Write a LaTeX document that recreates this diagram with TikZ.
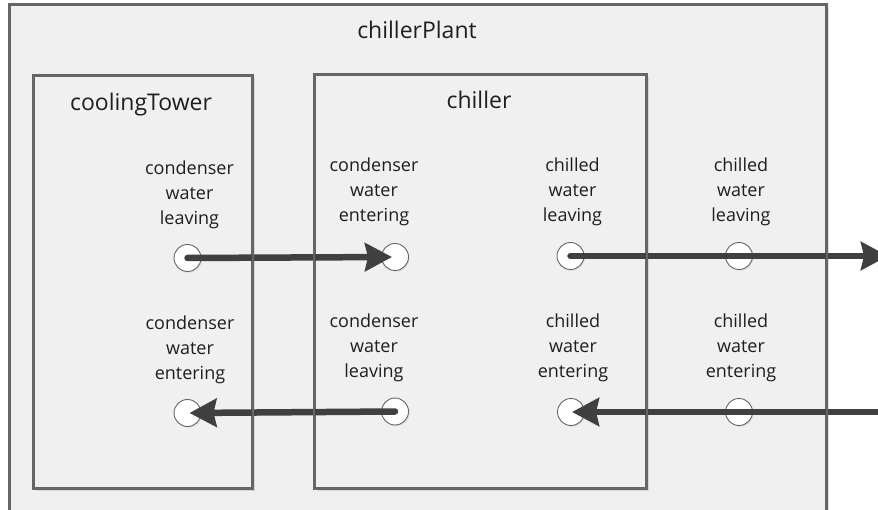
\documentclass[tikz,border=0pt]{standalone}
\usepackage{fontspec}
\setmainfont{Open Sans}
\usetikzlibrary{arrows.meta,shadows}
\definecolor{panel}{HTML}{F0F0F0}
\definecolor{edge}{HTML}{666666}
\definecolor{flow}{HTML}{404040}
\definecolor{ink}{HTML}{1E1E1E}
\begin{document}
\begin{tikzpicture}[x=1pt,y=-1pt,
  block/.style={rectangle,draw=edge,line width=1.6pt,fill=panel,inner sep=0pt,
    drop shadow={shadow xshift=2.5pt,shadow yshift=-2.5pt,fill=black!35,opacity=0.35}},
  frame/.style={draw=edge,line width=1.6pt},
  port/.style={circle,draw=edge,line width=0.9pt,fill=white,minimum size=27pt,inner sep=0pt,
    drop shadow={shadow xshift=1.2pt,shadow yshift=-1.2pt,fill=black!30,opacity=0.3}},
  portlabel/.style={align=center,font=\fontsize{18}{25}\selectfont,text=ink,inner sep=0pt},
  title/.style={font=\fontsize{23}{27}\selectfont,text=ink,inner sep=0pt,anchor=base},
  flowline/.style={draw=flow,line width=6.5pt,line cap=round,
    -{Stealth[length=27pt,width=28pt,inset=3pt]}},
]
\useasboundingbox (0,0) rectangle (878,510);
\clip (0,0) rectangle (878,510);
\fill[white] (0,0) rectangle (878,510);

% containers
\node[block,minimum width=816pt,minimum height=525pt] (plant) at (418,267.5) {};
\node[block,minimum width=218pt,minimum height=412pt] (tower) at (143,282) {};
\node[block,minimum width=331pt,minimum height=413pt] (chiller) at (480.5,281.5) {};

% titles
\node[title] (plantT) at (417,39) {chillerPlant};
\node[title] (towerT) at (141,111) {coolingTower};
\node[title] (chillerT) at (479,109) {chiller};

% ports
\node[port] (ctOut) at (187.5,258) {};
\node[port] (ctIn) at (187.5,413) {};
\node[port] (chCondIn) at (395,257) {};
\node[port] (chCondOut) at (395,411.5) {};
\node[port] (chChwOut) at (570.5,256) {};
\node[port] (chChwIn) at (571,412) {};
\node[port] (plChwOut) at (739,256) {};
\node[port] (plChwIn) at (739,412) {};

% port labels
\node[portlabel] (lctOut) at (189.5,195) {condenser\\water\\leaving};
\node[portlabel] (lctIn) at (190,350) {condenser\\water\\entering};
\node[portlabel] (lchCondIn) at (374,192) {condenser\\water\\entering};
\node[portlabel] (lchCondOut) at (374,348) {condenser\\water\\leaving};
\node[portlabel] (lchChwOut) at (572.5,192) {chilled\\water\\leaving};
\node[portlabel] (lchChwIn) at (573,348) {chilled\\water\\entering};
\node[portlabel] (lplChwOut) at (741,192) {chilled\\water\\leaving};
\node[portlabel] (lplChwIn) at (741,348) {chilled\\water\\entering};

% loose ends of the chilled water loop
\coordinate (chwSupply) at (888,256);
\coordinate (chwReturn) at (892,412);

% flows
\draw[flowline,shorten >=3pt] (ctOut.center) -- (chCondIn.center);
\draw[flowline,shorten >=2pt] (chCondOut.center) -- (ctIn.center);
\draw[flowline] (chChwOut.center) -- (chwSupply);
\draw[flowline,shorten >=1pt] (chwReturn) -- (chChwIn.center);

% container outlines over the flows
\draw[frame] (plant.south west) rectangle (plant.north east);
\draw[frame] (tower.south west) rectangle (tower.north east);
\draw[frame] (chiller.south west) rectangle (chiller.north east);
\end{tikzpicture}
\end{document}
